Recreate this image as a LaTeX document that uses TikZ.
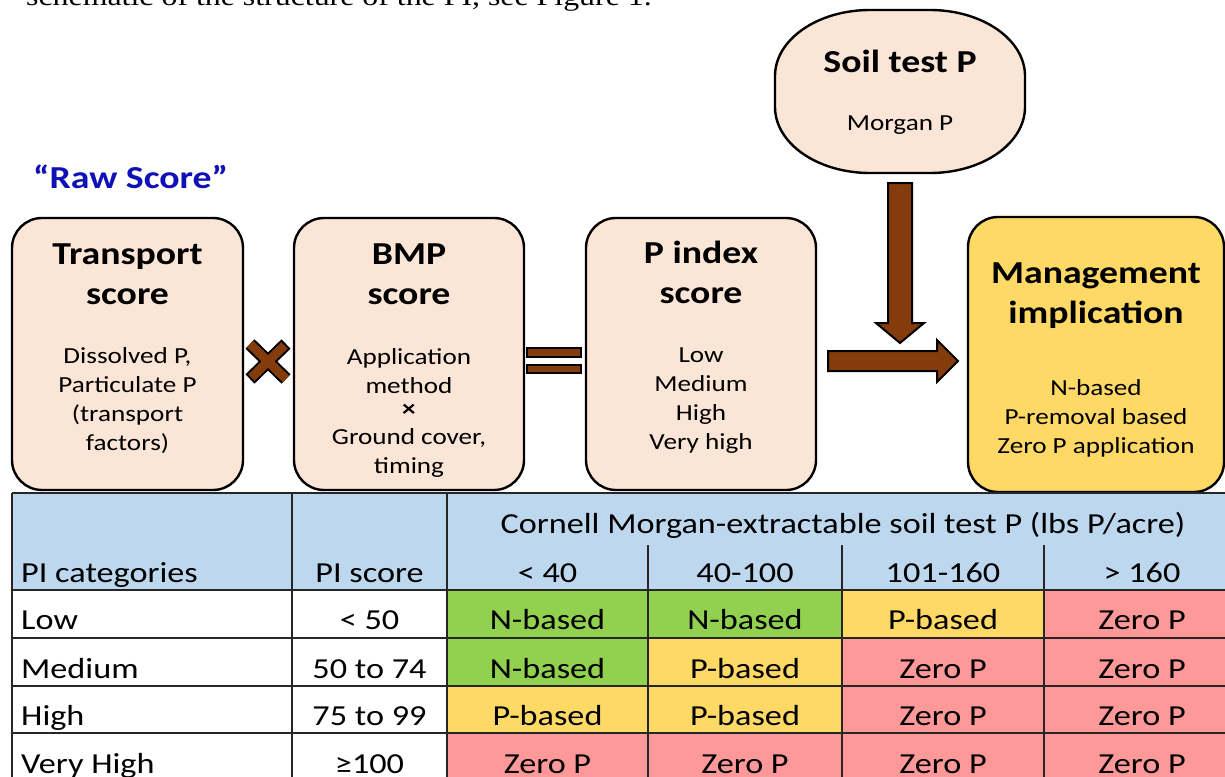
\documentclass[tikz,border=0pt]{standalone}
\usepackage{fontspec}
\setmainfont{Carlito}[FakeStretch=1.18]
\newfontfamily\timesf{Liberation Serif}[FakeStretch=1.18]
\definecolor{peach}{HTML}{FBE5D6}
\definecolor{mgold}{HTML}{FFD966}
\definecolor{brownA}{HTML}{843C0C}
\definecolor{hdrblue}{HTML}{BDD7EE}
\definecolor{cgreen}{HTML}{92D050}
\definecolor{cyellow}{HTML}{FFD966}
\definecolor{cred}{HTML}{FF9999}
\definecolor{rawblue}{HTML}{1010B8}
\tikzset{
 scorebox/.style={draw=black, line width=2.4pt, rounded corners=30pt, fill=peach, inner sep=0pt},
 ttl/.style={font=\fontsize{32}{40}\selectfont\bfseries, align=center, anchor=base, inner sep=0pt},
 bdy/.style={font=\fontsize{23}{28.7}\selectfont, align=center, anchor=base, inner sep=0pt},
 blockarrow/.style={fill=brownA, draw=black, line width=2pt, line join=miter},
 cell/.style={font=\fontsize{29}{29}\selectfont, anchor=base, inner sep=0pt},
 gridline/.style={draw=black!85, line width=1.2pt},
}
\begin{document}
\begin{tikzpicture}[x=1pt,y=-1pt]
\useasboundingbox (0,0) rectangle (1225,776);
\clip (0,0) rectangle (1225,776);
\fill[white] (0,0) rectangle (1225,776);

% intro text (cut off at top)
\node[anchor=base west, font=\timesf\fontsize{27}{27}\selectfont, inner sep=0pt] (intro) at (26,6) {schematic of the structure of the PI, see Figure 1.};

% Raw score label
\node[anchor=base west, font=\fontsize{32}{32}\selectfont\bfseries, text=rawblue, inner sep=0pt] (raw) at (33,188) {“Raw Score”};

% boxes
\node[scorebox, minimum width=231pt, minimum height=272pt] (trans) at (127.5,354) {};
\node[scorebox, minimum width=230pt, minimum height=272pt] (bmp) at (409,354) {};
\node[scorebox, minimum width=230pt, minimum height=272pt] (pidx) at (701,354) {};
\node[scorebox, fill=mgold, minimum width=256pt, minimum height=275pt] (mgmt) at (1096,354.5) {};
% soil test oval
\draw[fill=peach, draw=black, line width=2.4pt] (870,10) -- (930,10)
  arc[start angle=-90, end angle=0, x radius=95, y radius=66] -- (1025,107)
  arc[start angle=0, end angle=90, x radius=95, y radius=66] -- (870,173)
  arc[start angle=90, end angle=180, x radius=95, y radius=66] -- (775,76)
  arc[start angle=180, end angle=270, x radius=95, y radius=66] -- cycle;
\node[minimum width=250pt, minimum height=163pt, inner sep=0pt] (soil) at (900,91.5) {};

% box texts (base = last line baseline)
\node[ttl] (transT) at (127.5,304) {Transport\\score};
\node[bdy] (transB) at (127.5,450) {Dissolved P,\\Particulate P\\(transport\\factors)};
\node[ttl] (bmpT) at (409,304) {BMP\\score};
\node[bdy] (bmpB1) at (409,393) {Application\\method};
\node[font=\fontsize{23}{23}\selectfont\bfseries, inner sep=0pt] (bmpX) at (409,410) {×};
\node[bdy] (bmpB2) at (409,473) {Ground cover,\\timing};
\node[ttl] (pidxT) at (701,303) {P index\\score};
\node[bdy] (pidxB) at (701,449) {Low\\Medium\\High\\Very high};
\node[ttl] (mgmtT) at (1096,323) {Management\\implication};
\node[bdy] (mgmtB) at (1096,453) {N-based\\P-removal based\\Zero P application};
\node[ttl] (soilT) at (900,72) {Soil test P};
\node[bdy] (soilB) at (900,130) {Morgan P};

% times and equals signs
\draw[line width=13pt, black] (250,344) -- (286,379) (286,344) -- (250,379);
\draw[line width=9pt, brownA, shorten >=2pt, shorten <=2pt] (250,344) -- (286,379) (286,344) -- (250,379);
\draw[fill=brownA, line width=1.5pt] (527,348) rectangle (581,357);
\draw[fill=brownA, line width=1.5pt] (527,365) rectangle (581,373);

% block arrows
\draw[blockarrow] (888,183) -- (912,183) -- (912,323) -- (924,323) -- (900,343) -- (876,323) -- (888,323) -- cycle;
\draw[blockarrow] (828,351) -- (937,351) -- (937,340) -- (958,361) -- (937,382) -- (937,371) -- (828,371) -- cycle;

% table fills
\fill[hdrblue] (12,493) rectangle (1240,590);
\foreach \yt/\ca/\cb/\cc/\cd in {590/cgreen/cgreen/cyellow/cred, 638/cgreen/cyellow/cred/cred, 686/cyellow/cyellow/cred/cred, 733/cred/cred/cred/cred} {
  \fill[\ca] (447,\yt) rectangle (648,\yt+48);
  \fill[\cb] (648,\yt) rectangle (842,\yt+48);
  \fill[\cc] (842,\yt) rectangle (1044,\yt+48);
  \fill[\cd] (1044,\yt) rectangle (1240,\yt+48);
}
% table lines
\foreach \yy in {493,590,638,686,733} { \draw[gridline] (12,\yy) -- (1240,\yy); }
\foreach \xx in {12,292,447} { \draw[gridline] (\xx,493) -- (\xx,781); }
\foreach \xx in {648,842,1044} { \draw[gridline] (\xx,545) -- (\xx,781); }

% header texts
\node[cell] (hdrC) at (843,533) {Cornell Morgan-extractable soil test P (lbs P/acre)};
\node[cell, anchor=base west] (hdr1) at (21,582) {PI categories};
\node[cell] (hdr2) at (369.5,582) {PI score};
\node[cell] (hdr3) at (547.5,582) {< 40};
\node[cell] (hdr4) at (745,582) {40-100};
\node[cell] (hdr5) at (943,582) {101-160};
\node[cell] (hdr6) at (1142,582) {> 160};

% row texts
\foreach \yb/\lab/\sc/\ta/\tb/\tc/\td [count=\r] in {
  629/Low/{< 50}/N-based/N-based/P-based/Zero P,
  678/Medium/50 to 74/N-based/P-based/Zero P/Zero P,
  725/High/75 to 99/P-based/P-based/Zero P/Zero P,
  773/Very High/{≥100}/Zero P/Zero P/Zero P/Zero P} {
  \node[cell, anchor=base west] (cat\r) at (21,\yb) {\lab};
  \node[cell] (sc\r) at (369.5,\yb) {\sc};
  \node[cell] (ca\r) at (547.5,\yb) {\ta};
  \node[cell] (cb\r) at (745,\yb) {\tb};
  \node[cell] (cc\r) at (943,\yb) {\tc};
  \node[cell] (cd\r) at (1142,\yb) {\td};
}
\end{tikzpicture}
\end{document}
